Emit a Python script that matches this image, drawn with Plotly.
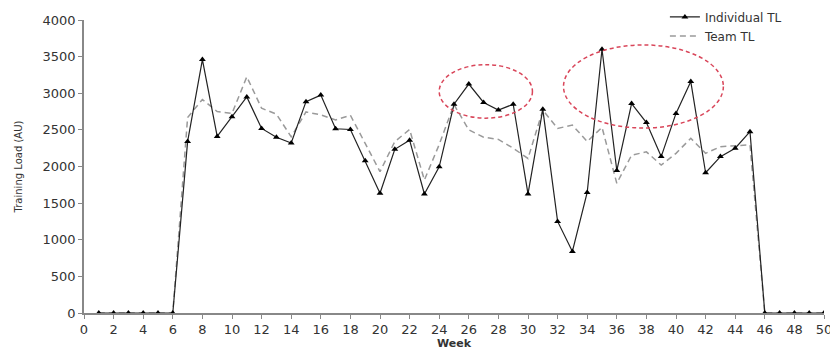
import plotly.graph_objects as go

weeks = list(range(1, 51))
individual_tl = [0, 0, 0, 0, 0, 0, 2340, 3460, 2410, 2680, 2950, 2520, 2400, 2320, 2885, 2975,
                 2515, 2505, 2080, 1635, 2235, 2360, 1625, 1995, 2850, 3125, 2875, 2770, 2850, 1625,
                 2780, 1250, 840, 1645, 3600, 1945, 2860, 2600, 2135, 2725, 3160, 1915, 2135, 2250,
                 2475, 0, 0, 0, 0, 0]
team_tl = [0, 0, 0, 0, 0, 0, 2670, 2915, 2750, 2725, 3225, 2795, 2715, 2405, 2745, 2705,
           2635, 2700, 2315, 1930, 2340, 2505, 1815, 2300, 2845, 2500, 2400, 2370, 2250, 2110,
           2770, 2520, 2565, 2340, 2535, 1770, 2155, 2200, 2020, 2180, 2385, 2180, 2270, 2280,
           2295, 0, 0, 0, 0, 0]
x_ticks = list(range(0, 51, 2))
y_ticks = list(range(0, 4001, 500))
ellipses = [(24.0, 30.3, 2660, 3390), (32.4, 43.2, 2525, 3660)]

fig = go.Figure()
fig.add_trace(go.Scatter(
    x=weeks, y=team_tl, mode="lines", name="Team TL",
    line=dict(color="#9a9a9a", width=1.5, dash="6px,4px"),
))
fig.add_trace(go.Scatter(
    x=weeks, y=individual_tl, mode="lines+markers", name="Individual TL",
    line=dict(color="#222222", width=1.2),
    marker=dict(symbol="triangle-up", size=6, color="#000000"),
))

for x0, x1, y0, y1 in ellipses:
    fig.add_shape(type="circle", xref="x", yref="y", x0=x0, x1=x1, y0=y0, y1=y1,
                  line=dict(color="#d9465a", width=1.5, dash="4px,3px"))

font_family = "DejaVu Sans, Liberation Sans, Arial"
fig.update_layout(
    width=830, height=343,
    margin=dict(l=76, r=14, t=12, b=38, autoexpand=False),
    paper_bgcolor="white", plot_bgcolor="white",
    font=dict(family=font_family, size=12, color="#333333"),
    showlegend=True,
    legend=dict(x=0.785, y=1.06, xanchor="left", yanchor="top",
                traceorder="reversed", bgcolor="rgba(0,0,0,0)",
                font=dict(size=12, color="#333333"), tracegroupgap=0,
                itemwidth=30),
    xaxis=dict(range=[0, 50], tickvals=x_ticks, ticktext=[str(v) for v in x_ticks],
               showgrid=False, zeroline=False, showline=True, linecolor="#888888",
               linewidth=1.5, ticks="outside", ticklen=4, tickcolor="#888888",
               tickfont=dict(size=13), automargin=False,
               title=dict(text="<b>Week</b>", font=dict(size=11), standoff=0)),
    yaxis=dict(range=[0, 4000], tickvals=y_ticks, showgrid=False, zeroline=False,
               showline=True, linecolor="#888888", linewidth=1.5, ticks="outside",
               ticklen=4, tickcolor="#888888", tickfont=dict(size=13), automargin=False,
               title=dict(text="Training Load (AU)", font=dict(size=10), standoff=18)),
)

fig.write_html("out.html")
